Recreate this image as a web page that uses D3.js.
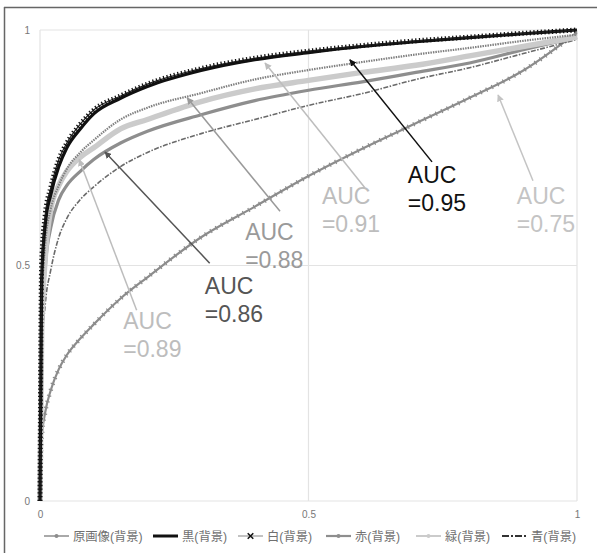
<!DOCTYPE html>
<html>
<head>
<meta charset="utf-8">
<script src="https://cdn.jsdelivr.net/npm/d3@7"></script>
<style>
  body { margin: 0; background: #fff; }
  svg { font-family: "Liberation Sans", Arial, "Noto Sans CJK JP", sans-serif; }
</style>
</head>
<body>
<div id="d3-container"></div>
<script>
// ROC curves, false positive rate grid shared by all series
const fpr = [0, 0.003, 0.01, 0.02, 0.035, 0.05, 0.075, 0.1, 0.15, 0.2, 0.3, 0.4, 0.5, 0.6, 0.7, 0.8, 0.9, 1];

const tprOriginal = [0, 0.13, 0.19, 0.235, 0.28, 0.31, 0.345, 0.375, 0.43, 0.475, 0.56, 0.625, 0.69, 0.748, 0.802, 0.856, 0.914, 0.995];
const tprBlack    = [0, 0.47, 0.59, 0.65, 0.71, 0.75, 0.79, 0.822, 0.855, 0.88, 0.914, 0.937, 0.952, 0.965, 0.975, 0.984, 0.992, 1];
const tprWhite    = [0, 0.50, 0.61, 0.665, 0.725, 0.76, 0.80, 0.83, 0.86, 0.885, 0.918, 0.94, 0.955, 0.967, 0.977, 0.985, 0.993, 1];
const tprRed      = [0, 0.33, 0.50, 0.58, 0.64, 0.67, 0.70, 0.725, 0.76, 0.785, 0.82, 0.85, 0.872, 0.89, 0.91, 0.93, 0.958, 0.985];
const tprGreen    = [0, 0.36, 0.52, 0.62, 0.67, 0.70, 0.73, 0.75, 0.79, 0.81, 0.848, 0.875, 0.893, 0.91, 0.925, 0.945, 0.965, 0.985];
const tprBlue     = [0, 0.30, 0.42, 0.49, 0.56, 0.60, 0.64, 0.667, 0.71, 0.74, 0.78, 0.81, 0.84, 0.865, 0.895, 0.92, 0.95, 0.98];
const tprExtra    = [0, 0.40, 0.55, 0.62, 0.67, 0.705, 0.74, 0.766, 0.81, 0.835, 0.866, 0.895, 0.915, 0.932, 0.948, 0.962, 0.977, 0.99];

const legendNames = ["原画像(背景)", "黒(背景)", "白(背景)", "赤(背景)", "緑(背景)", "青(背景)"];
const tickValues = [0, 0.5, 1];

// annotations: label, text position, arrow start, arrow tip (data units)
const aucLabels = ["=0.95", "=0.91", "=0.75", "=0.88", "=0.86", "=0.89"];
const aucTextX  = [0.685, 0.525, 0.888, 0.382, 0.307, 0.155];
const aucTextY  = [0.675, 0.63, 0.63, 0.555, 0.44, 0.365];
const arrowFrom = [[0.73, 0.72], [0.605, 0.665], [0.918, 0.68], [0.447, 0.615], [0.316, 0.505], [0.18, 0.405]];
const arrowTo   = [[0.577, 0.937], [0.419, 0.93], [0.853, 0.862], [0.274, 0.856], [0.121, 0.741], [0.073, 0.725]];
const aucColors = ["#111", "#bdbdbd", "#c4c4c4", "#9a9a9a", "#555", "#bdbdbd"];

const width = 597;
const height = 553;
const margin = {top: 30, right: 20, bottom: 52, left: 40};

const svg = d3.select("#d3-container")
    .append("svg")
    .attr("width", width)
    .attr("height", height);

const x = d3.scaleLinear().domain([0, 1]).range([margin.left, 577]);
const y = d3.scaleLinear().domain([0, 1]).range([501, margin.top]);

// outer frame (left and top only, picture is cropped)
svg.append("line").attr("x1", 4.5).attr("x2", 4.5).attr("y1", 7).attr("y2", height)
    .attr("stroke", "#666").attr("stroke-width", 1.5);
svg.append("line").attr("x1", 4).attr("x2", width).attr("y1", 7.5).attr("y2", 7.5)
    .attr("stroke", "#666").attr("stroke-width", 1.5);

// grid
const grid = svg.append("g").attr("stroke", "#e3e3e3").attr("stroke-width", 1.2);
tickValues.forEach(t => {
  grid.append("line").attr("x1", x(t)).attr("x2", x(t)).attr("y1", y(0)).attr("y2", y(1));
  grid.append("line").attr("x1", x(0)).attr("x2", x(1)).attr("y1", y(t)).attr("y2", y(t));
});

const fmt = d => d === 0.5 ? "0.5" : String(d);
svg.append("g")
    .attr("transform", `translate(${x(0)},0)`)
    .call(d3.axisLeft(y).tickValues(tickValues).tickSize(0).tickPadding(10).tickFormat(fmt))
    .call(g => g.select(".domain").remove())
    .call(g => g.selectAll("text").attr("fill", "#777").attr("font-size", 10));
svg.append("g")
    .attr("transform", `translate(0,${y(0)})`)
    .call(d3.axisBottom(x).tickValues(tickValues).tickSize(0).tickPadding(10).tickFormat(fmt))
    .call(g => g.select(".domain").remove())
    .call(g => g.selectAll("text").attr("fill", "#777").attr("font-size", 10));

const line = d3.line()
    .x(d => x(d[0]))
    .y(d => y(d[1]))
    .curve(d3.curveMonotoneX);

const pts = tpr => fpr.map((f, i) => [f, tpr[i]]);

// series styles: each entry is a list of stroke layers
const series = [
  {tpr: tprOriginal, layers: [{c: "#8c8c8c", w: 2.2}, {c: "#8c8c8c", w: 4.5, d: "1.2,5"}]},
  {tpr: tprBlue, layers: [{c: "#6a6a6a", w: 1.6, d: "5,1.5,1.5,1.5"}]},
  {tpr: tprRed, layers: [{c: "#8e8e8e", w: 3.2}]},
  {tpr: tprGreen, layers: [{c: "#cbcbcb", w: 5.5}]},
  {tpr: tprExtra, layers: [{c: "#808080", w: 2.2, d: "1.5,1"}]},
  {tpr: tprBlack, layers: [{c: "#111", w: 3.2}]},
  {tpr: tprWhite, layers: [{c: "#222", w: 1.2}, {c: "#111", w: 5, d: "1.3,2.4"}]}
];

const curves = svg.append("g").attr("fill", "none");
series.forEach(s => {
  s.layers.forEach(l => {
    curves.append("path")
        .datum(pts(s.tpr))
        .attr("d", line)
        .attr("stroke", l.c)
        .attr("stroke-width", l.w)
        .attr("stroke-dasharray", l.d || null)
        .attr("stroke-linejoin", "round");
  });
});

// arrow markers
const defs = svg.append("defs");
aucColors.forEach((c, i) => {
  defs.append("marker")
      .attr("id", "arr" + i)
      .attr("viewBox", "0 0 10 10")
      .attr("refX", 9).attr("refY", 5)
      .attr("markerWidth", 7).attr("markerHeight", 7)
      .attr("markerUnits", "userSpaceOnUse")
      .attr("orient", "auto")
      .append("path")
      .attr("d", "M0,0 L10,5 L0,10 Z")
      .attr("fill", c);
});

const notes = svg.append("g");
aucLabels.forEach((lab, i) => {
  notes.append("line")
      .attr("x1", x(arrowFrom[i][0])).attr("y1", y(arrowFrom[i][1]))
      .attr("x2", x(arrowTo[i][0])).attr("y2", y(arrowTo[i][1]))
      .attr("stroke", aucColors[i])
      .attr("stroke-width", 1.5)
      .attr("marker-end", `url(#arr${i})`);
  const t = notes.append("text")
      .attr("x", x(aucTextX[i]))
      .attr("y", y(aucTextY[i]))
      .attr("fill", aucColors[i])
      .attr("font-size", 23);
  t.append("tspan").attr("x", x(aucTextX[i])).text("AUC");
  t.append("tspan").attr("x", x(aucTextX[i])).attr("dy", 28).text(lab);
});

// legend
const legX = [44, 153, 238, 326, 416, 502];
const legY = 536;
const leg = svg.append("g").attr("font-size", 12.3).attr("fill", "#707070");
legendNames.forEach((name, i) => {
  const g = leg.append("g").attr("transform", `translate(${legX[i]},${legY})`);
  const st = [
    {c: "#8c8c8c", w: 1.5, d: null},
    {c: "#111", w: 3, d: null},
    {c: "#999", w: 1.2, d: null},
    {c: "#8e8e8e", w: 2.2, d: null},
    {c: "#cbcbcb", w: 2, d: null},
    {c: "#333", w: 2.2, d: "7,2,2,2"}
  ][i];
  g.append("line").attr("x1", 0).attr("x2", 25).attr("y1", 0).attr("y2", 0)
      .attr("stroke", st.c).attr("stroke-width", st.w).attr("stroke-dasharray", st.d);
  if (i === 2) {
    g.append("path").attr("d", d3.symbol(d3.symbolX, 22)())
        .attr("transform", "translate(12.5,0)").attr("stroke", "#111").attr("stroke-width", 1.5);
  } else if (i !== 1 && i !== 5) {
    g.append("circle").attr("cx", 12.5).attr("cy", 0).attr("r", 2).attr("fill", st.c);
  }
  g.append("text").attr("x", 29).attr("y", 4.5).text(name);
});
</script>
</body>
</html>
